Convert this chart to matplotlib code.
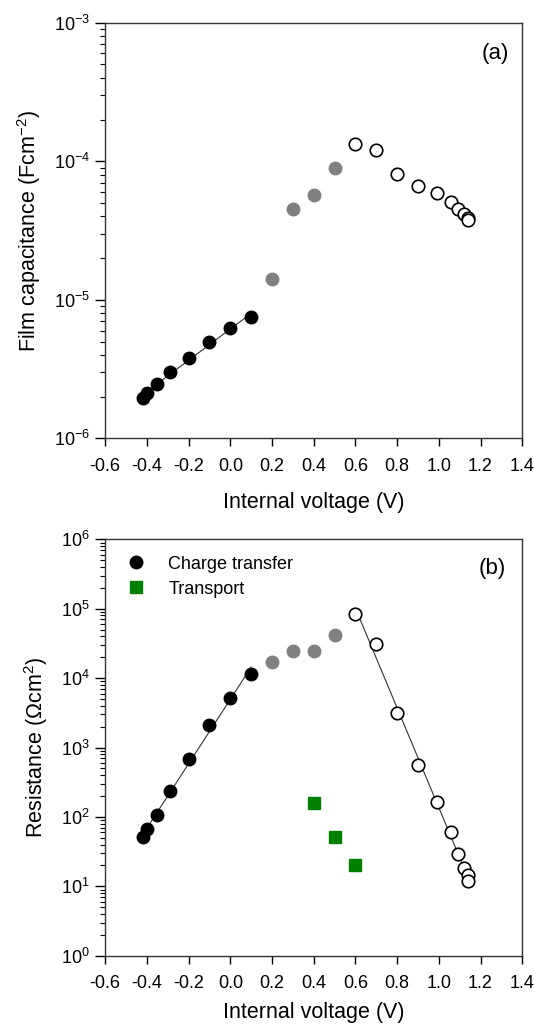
import numpy as np
import matplotlib.pyplot as plt
from matplotlib.ticker import LogLocator, NullFormatter, FuncFormatter

plt.rcParams['font.family'] = ['Liberation Sans', 'DejaVu Sans']
plt.rcParams['mathtext.fontset'] = 'custom'
plt.rcParams['mathtext.rm'] = 'Liberation Sans'
plt.rcParams['mathtext.it'] = 'Liberation Sans:italic'
plt.rcParams['mathtext.bf'] = 'Liberation Sans:bold'

# Internal voltage (V)
v_ct = [-0.42, -0.40, -0.35, -0.29, -0.20, -0.10, 0.00, 0.10]
v_mid = [0.20, 0.30, 0.40, 0.50]
v_hi = [0.60, 0.70, 0.80, 0.90, 0.99, 1.06, 1.09, 1.12, 1.14, 1.14]
v_tr = [0.40, 0.50, 0.60]

# Film capacitance (F cm^-2)
c_ct = [1.97e-6, 2.14e-6, 2.48e-6, 3.03e-6, 3.78e-6, 4.95e-6, 6.22e-6, 7.55e-6]
c_mid = [1.41e-5, 4.52e-5, 5.68e-5, 9.0e-5]
c_hi = [1.33e-4, 1.20e-4, 8.13e-5, 6.67e-5, 5.86e-5, 5.08e-5, 4.50e-5, 4.14e-5, 3.87e-5, 3.77e-5]

# Resistance (Ohm cm^2)
r_ct = [52, 66, 105, 234, 676, 2090, 5230, 11500]
r_mid = [17300, 24600, 24900, 42300]
r_hi = [83000, 30700, 3180, 566, 164, 60.7, 29.3, 18.6, 14.6, 11.9]
r_tr = [161, 50.8, 20.5]

gray = '#808080'
green = '#008000'
ms = 9


def logfit(x, y):
    p = np.polyfit(x, np.log10(y), 1)
    xs = np.array([min(x), max(x)])
    return xs, 10 ** np.polyval(p, xs)


def pow10(val, pos):
    e = int(round(np.log10(val)))
    return '10$^{\\mathregular{%d}}$' % e


def style(ax, ylo, yhi):
    ax.set_yscale('log')
    ax.set_xlim(-0.6, 1.4)
    ax.set_ylim(ylo, yhi)
    ticks = np.arange(-0.6, 1.41, 0.2)
    ax.set_xticks(ticks)
    ax.set_xticklabels(['%.1f' % t for t in ticks])
    ax.yaxis.set_major_locator(LogLocator(base=10, numticks=10))
    ax.yaxis.set_major_formatter(FuncFormatter(pow10))
    ax.yaxis.set_minor_locator(LogLocator(base=10, subs=np.arange(2, 10), numticks=20))
    ax.yaxis.set_minor_formatter(NullFormatter())
    ax.tick_params(axis='both', direction='out', labelsize=13, top=False, right=False)
    ax.tick_params(axis='y', which='major', length=7, width=1, pad=4)
    ax.tick_params(axis='y', which='minor', length=3.5, width=0.8)
    ax.tick_params(axis='x', which='major', length=6, width=1, pad=8)
    for s in ax.spines.values():
        s.set_linewidth(1.0)
        s.set_color('#333333')


fig = plt.figure(figsize=(5.34, 10.34), dpi=100)

ax1 = fig.add_axes([0.197, 0.576, 0.781, 0.402])
xs, ys = logfit(v_ct, c_ct)
ax1.plot(xs, ys, color='#333333', lw=0.8, zorder=1)
ax1.plot(v_ct, c_ct, 'o', color='black', ms=ms, zorder=3)
ax1.plot(v_mid, c_mid, 'o', color=gray, ms=ms, zorder=3)
ax1.plot(v_hi, c_hi, 'o', mfc='white', mec='black', mew=1.2, ms=ms, zorder=3)
style(ax1, 1e-6, 1e-3)
ax1.set_xlabel('Internal voltage (V)', fontsize=15.5, labelpad=12)
ax1.set_ylabel('Film capacitance (Fcm$^{\\mathregular{-2}}$)', fontsize=15.5, labelpad=8)
ax1.text(0.935, 0.927, '(a)', transform=ax1.transAxes, fontsize=16, ha='center', va='center')

ax2 = fig.add_axes([0.197, 0.0757, 0.781, 0.4027])
xs, ys = logfit(v_ct, r_ct)
ax2.plot(xs, ys, color='#333333', lw=0.8, zorder=1)
xs, ys = logfit(v_hi, r_hi)
ax2.plot(xs, ys, color='#333333', lw=0.8, zorder=1)
ax2.plot(v_ct, r_ct, 'o', color='black', ms=ms, zorder=3, label='Charge transfer')
ax2.plot(v_tr, r_tr, 's', color=green, ms=8, zorder=3, label='Transport')
ax2.plot(v_mid, r_mid, 'o', color=gray, ms=ms, zorder=3)
ax2.plot(v_hi, r_hi, 'o', mfc='white', mec='black', mew=1.2, ms=ms, zorder=3)
style(ax2, 1, 1e6)
ax2.set_xlabel('Internal voltage (V)', fontsize=15.5, labelpad=7)
ax2.set_ylabel('Resistance ($\\Omega$cm$^{\\mathregular{2}}$)', fontsize=15.5, labelpad=8)
ax2.text(0.928, 0.931, '(b)', transform=ax2.transAxes, fontsize=16, ha='center', va='center')
ax2.legend(loc='upper left', frameon=False, fontsize=13, handletextpad=1.0,
           borderaxespad=0.5, labelspacing=0.45, handlelength=1.6)

fig.savefig('out.png', dpi=100)
